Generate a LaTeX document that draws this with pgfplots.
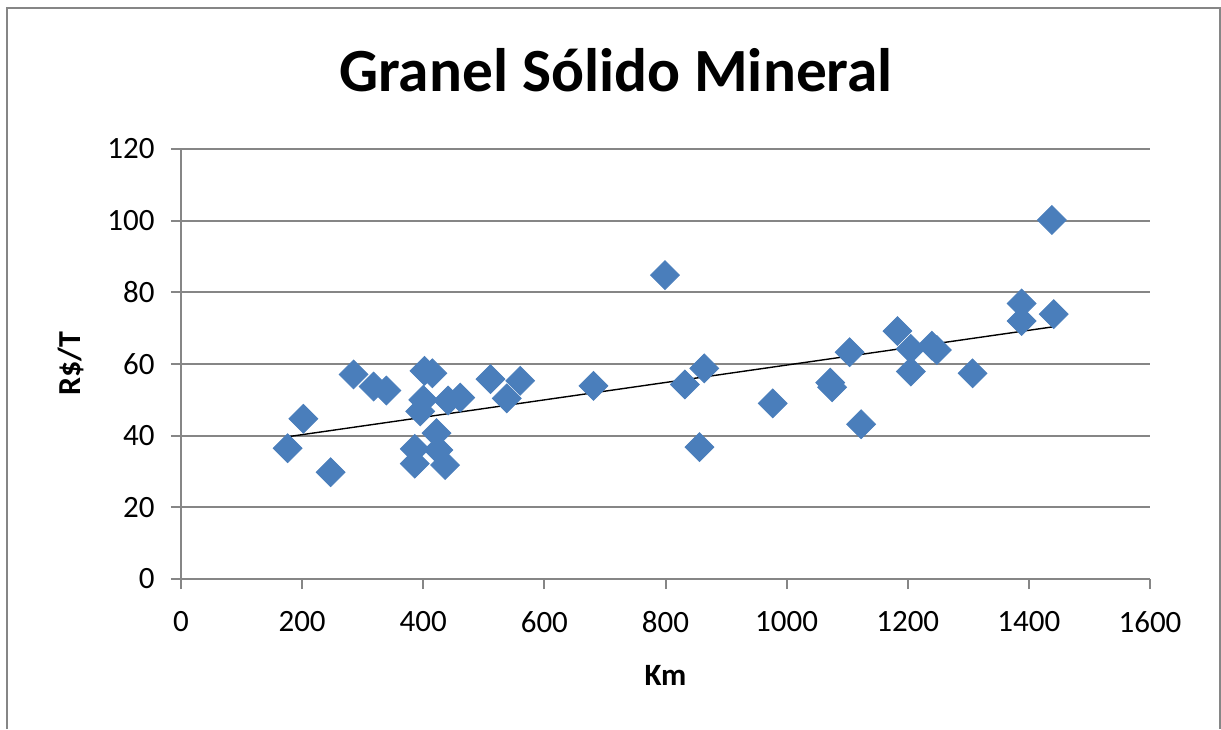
\documentclass[border=0pt]{standalone}
\usepackage{fontspec}
\setmainfont{Carlito}
\usepackage{pgfplots}
\pgfplotsset{compat=1.18}
\definecolor{gridgray}{HTML}{868686}
\definecolor{markblue}{HTML}{4A7EBB}
\begin{document}
\begin{tikzpicture}
\path[use as bounding box] (0,0) rectangle (610.5pt,364.5pt);
\draw[gridgray, line width=1.2pt] (3.5pt,0pt) -- (3.5pt,360.5pt) -- (610pt,360.5pt) -- (610pt,0pt);
\begin{axis}[
  at={(90.5pt,75pt)}, anchor=south west,
  scale only axis, width=484.5pt, height=215pt,
  xmin=0, xmax=1600, ymin=0, ymax=120,
  xtick={0,200,...,1600}, ytick={0,20,...,120},
  axis x line=bottom, axis y line=left,
  axis line style={gridgray, line width=1pt, -},
  ymajorgrids, major grid style={gridgray, line width=1pt},
  tick align=outside, major tick length=5pt,
  tick style={gridgray, line width=1pt},
  /pgf/number format/assume math mode=true,
  /pgf/number format/1000 sep={},
  ticklabel style={font=\fontsize{15.5}{18}\selectfont, text=black},
  xticklabel style={yshift=-7.7pt},
  yticklabel style={xshift=-4.7pt},
  xlabel={Km}, ylabel={R\$/T},
  xlabel style={font=\fontsize{15.5}{18}\selectfont\bfseries, at={(axis description cs:0.5,-0.2488)}, anchor=base},
  ylabel style={font=\fontsize{16}{18}\selectfont\bfseries, at={(axis description cs:-0.1042,0.5)}, anchor=base},
  title={Granel Sólido Mineral},
  title style={font=\fontsize{30.7}{36}\selectfont\bfseries, at={(axis description cs:0.4489,1.1047)}, anchor=base},
  clip=false,
]
\addplot[only marks, mark=square*, mark size=5.1pt, mark options={rotate=45, fill=markblue, draw=markblue}] coordinates {
(176,36.5) (202,44.7) (247,29.8) (285,57.1) (318,53.7) (339,52.6)
(402,58.1) (415,57.4) (400,50.0) (395,46.8) (422,40.7) (386,36.3)
(425,36.0) (386,32.2) (436,31.8) (441,49.8) (461,50.6) (511,55.8)
(538,50.4) (560,55.3) (681,53.9) (799,84.8) (832,54.3) (864,58.8)
(856,36.8) (977,49.0) (1072,54.8) (1075,53.5) (1104,63.3) (1123,43.2)
(1183,69.2) (1205,64.2) (1205,57.9) (1240,65.1) (1248,63.9) (1307,57.4)
(1388,76.9) (1388,72.0) (1441,73.9) (1438,100.2)
};
\addplot[black, line width=0.7pt] coordinates {(176,39.7) (1441,70.4)};
\end{axis}
\end{tikzpicture}
\end{document}
